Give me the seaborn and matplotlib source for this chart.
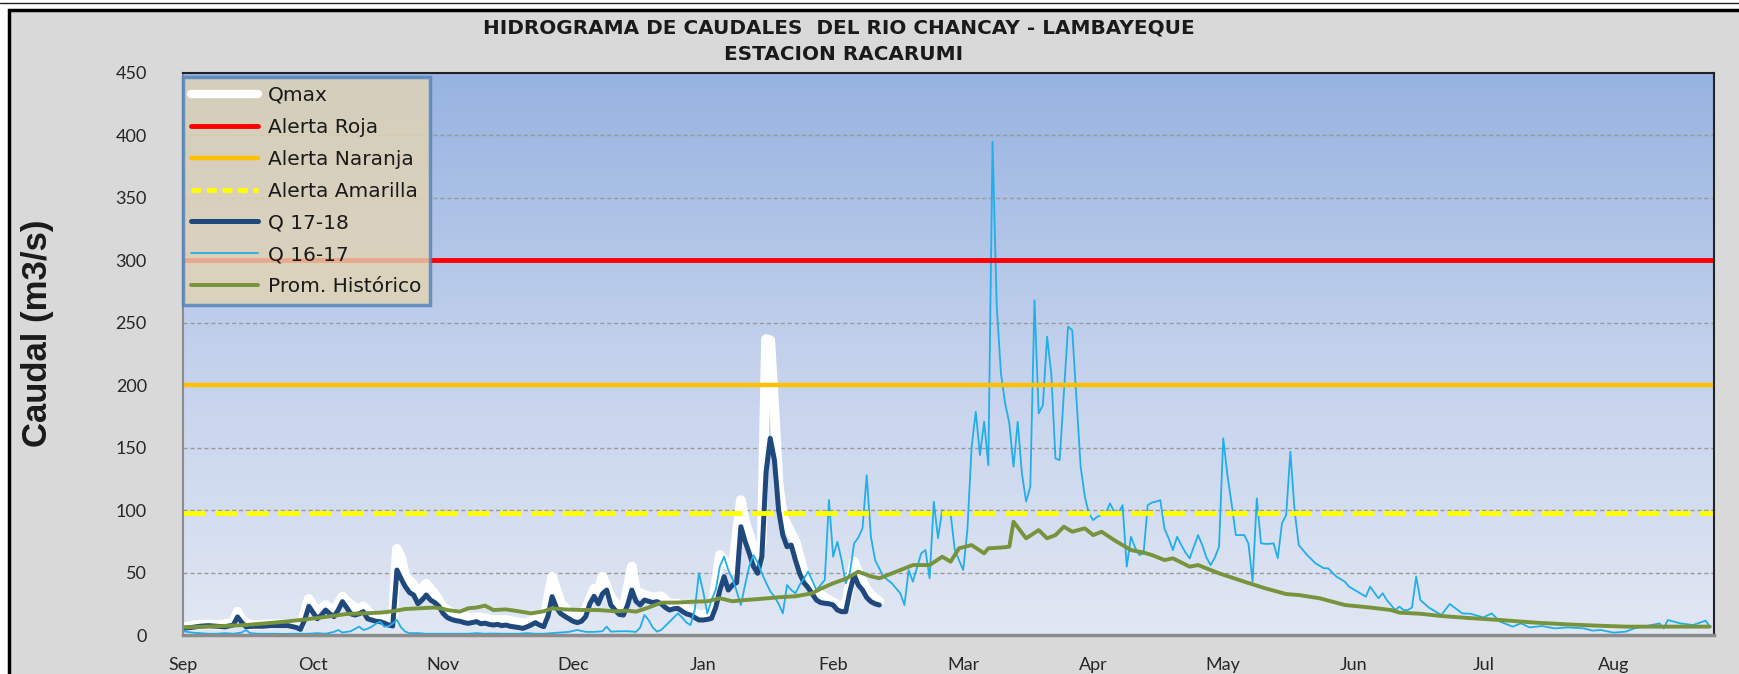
import numpy as np
import pandas as pd
import matplotlib
matplotlib.use("Agg")
import matplotlib.pyplot as plt
import seaborn as sns
from matplotlib.patches import Rectangle
from matplotlib.lines import Line2D
from matplotlib.colors import LinearSegmentedColormap

# ---------------- DATA ----------------
months = ["Sep", "Oct", "Nov", "Dec", "Jan", "Feb", "Mar", "Apr", "May", "Jun", "Jul", "Aug"]
y_ticks = [0, 50, 100, 150, 200, 250, 300, 350, 400, 450]

alert_labels = ["Alerta Roja", "Alerta Naranja", "Alerta Amarilla"]
alert_values = [300, 200, 98]

# Q 17-18 (day of hydrological year, value m3/s)
q1718_day = [0, 2, 4, 6, 8, 10, 12, 13, 14, 15, 17, 19, 21, 23, 25, 27, 28, 29, 30, 31, 32, 33, 34, 35, 36, 37, 38, 39,
             40, 41, 42, 43, 44, 45, 46, 47, 48, 49, 50, 51, 52, 53, 54, 55, 56, 57, 58, 59, 60, 61, 62, 63, 64, 65, 66,
             67, 68, 69, 70, 71, 72, 73, 74, 75, 76, 77, 78, 79, 80, 81, 82, 83, 84, 85, 86, 87, 88, 89, 90, 91, 92, 93,
             94, 95, 96, 97, 98, 99, 100, 101, 102, 103, 104, 105, 106, 107, 108, 109, 110, 111, 112, 113, 114, 115, 116,
             117, 118, 119, 120, 121, 122, 123, 124, 125, 126, 127, 128, 129, 130, 131, 132, 133, 134, 135, 136, 137, 138,
             139, 140, 141, 142, 143, 144, 145, 146, 147, 148, 149, 150, 151, 152, 153, 154, 155, 156, 157, 158, 159, 160,
             161, 162, 163, 164, 165, 166]
q1718 = [5.3, 6, 7, 7.5, 7, 6.5, 8, 14.5, 10, 6.7, 7, 7, 7.5, 7.5, 7.5, 6, 4.5, 12, 23, 18, 13, 16, 20, 17, 14.7, 20, 26.7, 22,
         17, 16, 17, 18.7, 13, 12, 11, 10.7, 9.5, 8, 7.2, 52, 45, 38.7, 34, 32, 25, 28, 32, 28, 26, 23, 17.3, 14, 12.5, 11.5, 11,
         10, 9.3, 10, 10.7, 9, 9.5, 8.5, 8, 8.5, 7.5, 8, 7, 6.5, 6, 5.3, 6.5, 8, 9.9, 8, 6.7, 15, 30.7, 22, 17.3, 15, 13, 11,
         9.9, 11, 14.7, 25, 31, 25, 33, 36, 24, 20, 16.5, 16, 24, 36, 27, 24, 28, 27, 26, 26.7, 25, 22, 20,
         21, 21.3, 19, 17, 16, 14, 12, 12, 12.5, 13.3, 22, 36, 46.7, 36, 40, 42, 86.7, 75, 65.4, 55, 49.4, 62.7,
         130, 157.5, 140, 100, 80, 70.7, 72, 60, 49.4, 42, 38, 33, 28, 26, 25.4, 25, 24, 20, 18.7, 18.7, 35, 48,
         40, 36, 30, 26.7, 25, 24]

# Qmax
qmax_day = [0, 3, 6, 9, 12, 13, 14, 16, 20, 25, 28, 30, 32, 34, 36, 38, 40, 42, 43, 45, 47, 50, 51, 52, 53, 55, 56, 58, 60,
            62, 65, 68, 71, 74, 77, 80, 82, 84, 86, 88, 90, 92, 94, 96, 98, 99, 100, 102, 104, 105, 107, 108, 110, 112,
            114, 116, 118, 120, 123, 126, 128, 129, 131, 133, 134, 136, 137, 138, 139, 140, 141, 142, 143, 144, 146,
            148, 150, 152, 154, 156, 158, 160, 161, 163, 165, 166]
qmax = [6, 8, 8.5, 8, 10, 18.7, 12, 8, 8.5, 9, 7, 29, 18, 24, 19, 30.7, 24, 20, 23, 16, 14, 10, 69, 62, 47, 40, 33, 41, 33,
        22, 16, 14, 14, 12, 12, 10, 9, 14, 10, 46.7, 26, 18, 14, 20, 37, 35, 46.7, 30, 22, 20, 54.7, 35, 32, 30,
        31, 25, 25, 21, 16, 17, 64, 60, 52, 108, 90, 70, 60, 75, 237, 236, 180, 120, 95, 88, 75,
        50, 38, 32, 28, 24, 23, 58.7, 50, 36, 29, 27]

# Q 16-17
q1617_day = [0, 2, 4, 6, 8, 10, 12, 14, 15, 16, 18, 20, 22, 24, 26, 28, 30, 32, 34, 36, 37, 38, 40, 42, 43, 44, 45, 46, 47,
             48, 49, 50, 51, 52, 53, 54, 56, 58, 60, 62, 64, 66, 68, 70, 72, 74, 76, 78, 80, 82, 84, 86, 88, 90, 92, 94,
             96, 98, 100, 101, 102, 104, 106, 108, 109, 110, 111, 112, 113, 114, 116, 117, 118, 119, 120, 121, 122, 123,
             124, 125, 126, 127, 128, 129, 130, 131, 132, 133, 134, 135, 136, 137, 138, 139, 140, 141, 142, 143, 144,
             145, 146, 147, 148, 149, 150, 151, 152, 153, 154, 155, 156, 157, 158, 159, 160, 161, 162, 163, 164, 165,
             167, 169, 171, 172, 173, 174, 176, 177, 178, 179, 180, 181, 182, 183, 184, 186, 187, 188, 189, 190, 191,
             192, 193, 194, 195, 196, 197, 198, 199, 200, 201, 202, 203, 204, 205, 206, 207, 208, 209, 211, 212, 214,
             215, 216, 217, 218, 219, 220, 221, 222, 223, 224, 225, 226, 227, 228, 229, 230, 231, 232, 233, 234, 235,
             236, 237, 238, 239, 240, 242, 243, 244, 245, 246, 247, 248, 249, 250, 251, 252, 253, 254, 255, 256, 257,
             258, 259, 260, 261, 262, 263, 264, 265, 266, 267, 268, 270, 272, 273, 275, 277, 278, 280, 282, 283, 285,
             286, 287, 289, 290, 291, 292, 293, 294, 295, 297, 298, 300, 302, 305, 307, 308, 310, 312, 314, 316, 317,
             319, 321, 324, 327, 330, 334, 336, 338, 341, 344, 346, 349, 352, 353, 354, 357, 360, 363, 364]
q1617 = [3, 2, 1.5, 1, 1, 1.5, 1, 2, 4, 1.5, 1, 1, 1, 0.8, 1, 1, 1, 1.5, 1, 2.5, 4, 2, 3, 6.7, 4, 5, 6.7, 9, 10.7,
         6.7, 7, 9.3, 12, 6, 2.7, 1.5, 1.5, 1, 1, 1, 1, 1, 1, 1.5, 1, 1.2, 1, 1, 1, 1.5, 1, 1, 1.5, 2, 2.5, 4,
         2.5, 2.5, 3, 6.7, 2.7, 3, 3, 2.5, 6, 16, 12, 6, 2.7, 4, 10.7, 14, 17.3, 14, 10, 8, 20, 49.4,
         35, 17.3, 28, 36, 55, 62.7, 52, 45, 35, 24, 40, 55, 64, 58, 49.4, 42, 35, 30.7, 25, 17.3, 40,
         36, 33.4, 40, 45, 50.7, 44, 36, 40, 44, 108, 62.7, 74.7, 60, 41.4, 50, 73.4, 78, 85.4, 128, 78.7, 60,
         46.7, 41.4, 33.4, 24, 52, 42.7, 65.4, 68, 45.4, 106.8, 77.4, 100, 96, 97.4, 68, 52, 84, 150, 178.8, 144, 170.8,
         136, 395, 263, 209.5, 185.5, 169.5, 134.8, 170.8, 129.4, 106.8, 118.8, 268, 177.5, 184, 238.9, 209.5, 141.4, 140, 246.9, 244, 134.8,
         110.8, 97, 92, 94.7, 96, 97.4, 105.4, 98.7, 97.4, 104, 54.7, 78.7, 70, 64, 65.4, 104, 106, 106.8, 108, 85, 77.4,
         68, 78.7, 72, 66, 61.4, 80, 72, 62, 56, 62, 70.7, 157.5, 128, 105, 80, 80, 80, 73.4, 42.7, 109.4, 73.4,
         73, 73, 73.4, 61.4, 89.4, 96, 146.8, 100, 72, 68, 64, 57.4, 53.4, 53.4, 46.7, 42.7, 38.7, 34.7, 30.7, 38.7, 29.4,
         33.4, 28, 20, 22.7, 20, 20, 22, 46.7, 28, 22, 20, 16, 24.8, 17.3, 17, 16, 14.1, 17.3, 10.7, 8, 6.7,
         9.3, 6.1, 7.2, 5.3, 6.1, 5.3, 3.5, 4, 1.9, 2.7, 5.3, 7.2, 9.3, 5.3, 12, 9.3, 8, 11.5, 6.7]

# Prom. Histórico
prom_day = [0, 8, 15, 22, 28, 34, 39, 44, 47, 50, 53, 57, 60, 62, 63, 66, 68, 70, 72, 74, 77, 80, 83, 86, 88, 91, 95, 99,
            103, 106, 108, 111, 114, 118, 122, 125, 128, 131, 134, 138, 142, 146, 150, 152, 155, 158, 161, 164, 166, 168,
            171, 174, 178, 181, 183, 185, 188, 191, 192, 195, 197, 198, 201, 204, 206, 208, 210, 212, 215, 217, 219, 222,
            226, 229, 231, 234, 236, 240, 242, 247, 253, 258, 263, 266, 271, 277, 283, 288, 290, 295, 300, 307, 314, 322,
            330, 337, 344, 364]
prom = [6.1, 7, 8, 10, 12, 14.5, 16.8, 17.5, 17.9, 19, 20.8, 21.5, 22, 21, 20, 18.7, 21.4, 22, 23.5, 20, 20.5, 19, 17.3, 19,
        21.4, 20.5, 20, 20, 19, 19.5, 18.7, 22, 25.9, 26, 26.7, 27, 29.4, 27, 28, 29, 30.2, 31, 33.4, 37, 41.4, 45, 50.7,
        47, 45.4, 48, 52, 56, 56, 62.7, 58.7, 69.4, 72, 65.4, 69.4, 70, 70.7, 90.7, 77.4, 84, 77.4, 80, 86.7, 82.7, 85.4,
        80, 82.7, 76, 68, 66, 64, 60, 61.4, 54.7, 56, 49.4, 42.7, 37.4, 32.8, 32, 29.4, 24, 22, 20, 17.9, 17, 15.2,
        13.5, 12, 10, 8.5, 7.5, 6.7, 6.7]

# ---------------- STYLE ----------------
sns.set_style("white")
plt.rcParams['font.family'] = ['Lato', 'DejaVu Sans']

W, H = 1740, 674
fig = plt.figure(figsize=(W / 100, H / 100), dpi=100)
fig.patch.set_facecolor("white")

# outer chart frame
fig.add_artist(Rectangle((9 / W, -0.05), 1.2, 1 - 10 / H + 0.05, transform=fig.transFigure,
                         facecolor="#d9d9d9", edgecolor="black", linewidth=2.5, zorder=0))
fig.add_artist(Line2D([0, 1], [1 - 3 / H, 1 - 3 / H], transform=fig.transFigure, color="#222222", lw=1))

ax = fig.add_axes([183 / W, 1 - 635 / H, (1714 - 183) / W, (635 - 73) / H])
ax.set_facecolor("none")

# gradient background
grad = np.linspace(0, 1, 256).reshape(-1, 1)
cmap = LinearSegmentedColormap.from_list("bg", ["#e1e7f3", "#c3d1ec", "#97b3e1"])
ax.imshow(grad, aspect="auto", cmap=cmap, origin="lower", extent=[0, 1, 0, 1],
          transform=ax.transAxes, zorder=0)

n_days = 365
ax.set_xlim(0, n_days)
ax.set_ylim(0, 450)

# grid
for v in y_ticks[1:-1]:
    ax.axhline(v, color="#9a9a9a", lw=1, ls=(0, (3, 2)), zorder=0.5)

# series
sns.lineplot(x=qmax_day, y=qmax, ax=ax, color="white", lw=7, zorder=2, solid_capstyle="round", solid_joinstyle="round")
sns.lineplot(x=q1718_day, y=q1718, ax=ax, color="#1f497d", lw=3.6, zorder=3, solid_joinstyle="round")
sns.lineplot(x=q1617_day, y=q1617, ax=ax, color="#22aee8", lw=1.3, zorder=4)
sns.lineplot(x=prom_day, y=prom, ax=ax, color="#77933c", lw=2.8, zorder=5)

alert_colors = ["#ff0000", "#ffc000", "#ffff00"]
alert_lw = [3.5, 3.2, 3.5]
alert_ls = ["-", "-", (0, (4.5, 2))]
for val, c, lw, ls in zip(alert_values, alert_colors, alert_lw, alert_ls):
    ax.axhline(val, color=c, lw=lw, ls=ls, zorder=6)

# axes / ticks
ax.set_xticks(np.arange(len(months)) * 31)
ax.set_xticklabels(months)
ax.set_yticks(y_ticks)
ax.tick_params(axis="x", direction="out", length=8, width=1.2, color="#8c8c8c", labelsize=13,
               labelcolor="#262626", pad=8)
ax.tick_params(axis="y", length=0, labelsize=13, labelcolor="#262626", pad=26)
ax.set_xlabel("")
ax.set_ylabel("")
for s in ["top", "right"]:
    ax.spines[s].set_color("#222222")
    ax.spines[s].set_linewidth(1.5)
ax.spines["left"].set_color("#8c8c8c")
ax.spines["left"].set_linewidth(1.5)
ax.spines["bottom"].set_color("#8c8c8c")
ax.spines["bottom"].set_linewidth(2.5)
for s in ax.spines.values():
    s.set_zorder(7)

# legend
handles = [
    Line2D([], [], color="white", lw=6),
    Line2D([], [], color=alert_colors[0], lw=3.5),
    Line2D([], [], color=alert_colors[1], lw=3.2),
    Line2D([], [], color=alert_colors[2], lw=3.5, ls=(0, (2, 1.2))),
    Line2D([], [], color="#1f497d", lw=3.6),
    Line2D([], [], color="#22aee8", lw=1.3),
    Line2D([], [], color="#77933c", lw=2.8),
]
labels = ["Qmax"] + alert_labels + ["Q 17-18", "Q 16-17", "Prom. Histórico"]
leg = ax.legend(handles, labels, loc="upper left", bbox_to_anchor=(0.0, 0.992), borderaxespad=0,
                prop={"family": ["DejaVu Sans"], "size": 14.5}, frameon=True, fancybox=False, shadow=False,
                handlelength=3.3, handletextpad=0.5, labelspacing=0.64, borderpad=0.42)
leg.get_frame().set_facecolor("#e4d5b3")
leg.get_frame().set_edgecolor("#4f81bd")
leg.get_frame().set_linewidth(2.5)
leg.set_zorder(10)
for t in leg.get_texts():
    t.set_color("#1a1a1a")

# titles
fig.text(839 / W, 1 - 28 / H, "HIDROGRAMA DE CAUDALES  DEL RIO CHANCAY - LAMBAYEQUE", ha="center", va="center",
         fontsize=14.4, fontweight="bold", color="#1a1a1a", family=["DejaVu Sans"])
fig.text(844 / W, 1 - 54 / H, "ESTACION RACARUMI", ha="center", va="center",
         fontsize=14.4, fontweight="bold", color="#1a1a1a", family=["DejaVu Sans"])
fig.text(38 / W, 1 - 333 / H, "Caudal (m3/s)", rotation=90, ha="center", va="center",
         fontsize=25, fontweight="bold", color="#1a1a1a", family=["Liberation Sans", "DejaVu Sans"])

fig.savefig("out.png", dpi=100, facecolor=fig.get_facecolor())
